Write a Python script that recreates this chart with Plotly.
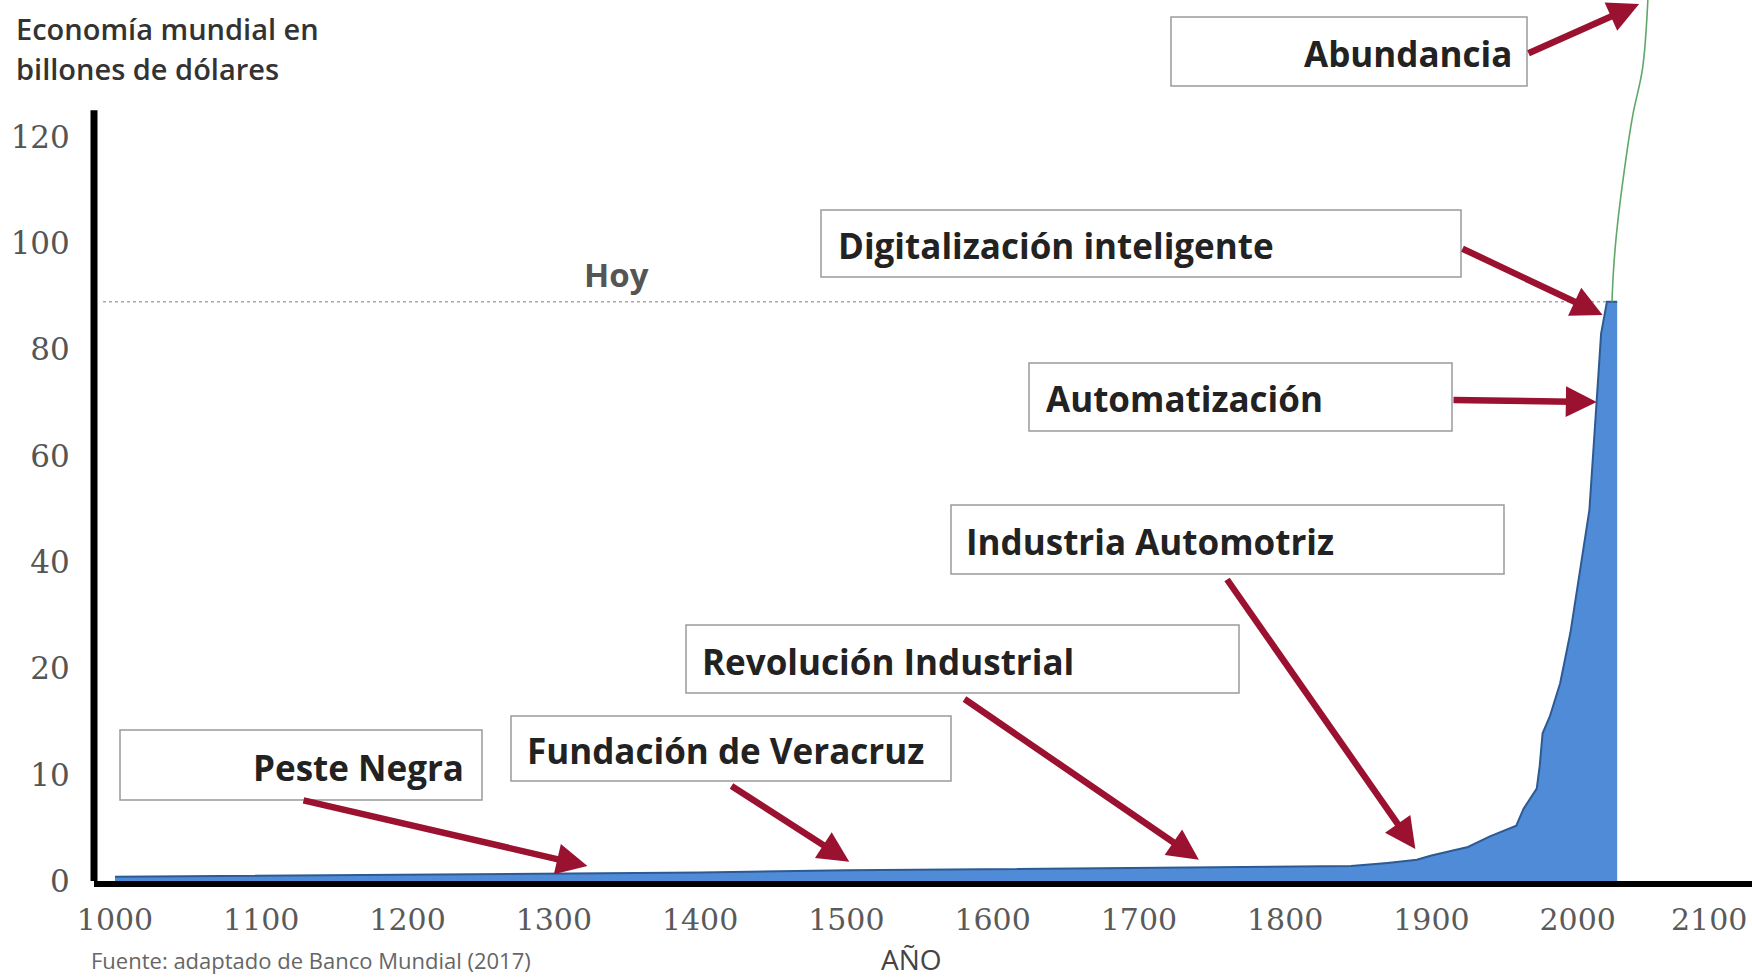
import numpy as np
import plotly.graph_objects as go

# ---------------- data ----------------
gdp_years = [1000, 1100, 1200, 1300, 1400, 1500, 1600, 1700, 1800, 1845, 1870, 1890,
             1900, 1925, 1940, 1958, 1963, 1972, 1974, 1976, 1981, 1988, 1995, 2002,
             2008, 2013, 2016, 2020, 2027]
gdp_values = [0.4, 0.5, 0.6, 0.7, 0.8, 1.0, 1.1, 1.2, 1.3, 1.4, 1.7, 2.0,
              2.4, 3.2, 4.2, 5.2, 6.8, 8.7, 10.8, 13.9, 15.5, 18.6, 26.7, 39.1,
              49.8, 70.5, 83.0, 89.0, 89.0]

proj_years = [2023.4, 2024.5, 2026.6, 2032, 2037.6, 2044.4, 2048]
proj_values = [89.0, 95.0, 102.0, 114.0, 124.0, 133.0, 146.0]

today_value = 89.0

events = ["Peste Negra", "Fundación de Veracruz", "Revolución Industrial",
          "Industria Automotriz", "Automatización", "Digitalización inteligente",
          "Abundancia"]
event_years = [1323, 1502, 1741, 1889, 2013, 2017, 2042]
event_values = [1.4, 1.8, 2.0, 3.0, 70.1, 86.5, 145.0]

x_ticks = list(range(1000, 2001, 100))
x_last_tick = 2100
y_tick_values = [0, 10, 20, 40, 60, 80, 100, 120]
y_tick_labels = ["0", "10", "20", "40", "60", "80", "100", "120"]

# ---------------- nonlinear (piecewise) y scale ----------------
def to_axis(v):
    v = np.asarray(v, dtype=float)
    pos = np.interp(v, y_tick_values, np.arange(len(y_tick_values)))
    top = y_tick_values[-1]
    return np.where(v > top, len(y_tick_values) - 1 + (v - top) / 20.0, pos)

# ---------------- layout geometry (pixels) ----------------
W, H = 1752, 977
L, R, T, B = 94, 0, 0, 96
PW, PH = W - L - R, H - T - B
x_per_px = 1.4627   # pixels per year
y_per_px = 106.3    # pixels per y-axis step
x_min = 1000 - (115 - L) / x_per_px
x_max = x_min + PW / x_per_px
y_max = PH / y_per_px

def fx(px):
    return (px - L) / PW

def fy(py):
    return (H - B - py) / PH

def data_x(px):
    return x_min + (px - L) / x_per_px

def data_y(py):
    return (H - B - py) / y_per_px

fig = go.Figure()

fig.add_trace(go.Scatter(
    x=gdp_years, y=to_axis(gdp_values), mode="lines", fill="tozeroy",
    fillcolor="#4f8bd6", line=dict(color="#2d5a93", width=2),
    hoverinfo="skip", showlegend=False))

fig.add_trace(go.Scatter(
    x=proj_years, y=to_axis(proj_values), mode="lines", line_shape="spline",
    line=dict(color="#5fa86a", width=1.6), hoverinfo="skip", showlegend=False,
    cliponaxis=False))

shapes = []
# y axis line (partial height)
shapes.append(dict(type="line", xref="paper", yref="y", x0=0, x1=0,
                   y0=0, y1=float(to_axis(125)), line=dict(color="black", width=7)))
# "Hoy" dotted line
shapes.append(dict(type="line", xref="paper", yref="y", x0=fx(103), x1=fx(1609),
                   y0=float(to_axis(today_value)), y1=float(to_axis(today_value)),
                   line=dict(color="#aaaaaa", width=1.5, dash="dot")))

# label boxes: (x0, y0, x1, y1) pixels, text anchor, text x
boxes = [
    ((120, 730, 482, 800), "right", 466),
    ((511, 716, 951, 781), "left", 525),
    ((686, 625, 1239, 693), "left", 700),
    ((951, 505, 1504, 574), "left", 964),
    ((1029, 363, 1452, 431), "left", 1044),
    ((821, 210, 1461, 277), "left", 836),
    ((1171, 17, 1527, 86), "right", 1514),
]
tails = [(302, 800), (730, 785), (963, 698), (1226, 578), (1452, 400),
         (1461, 248), (1527, 54)]

annotations = []
for name, (bx, anchor, tx), yr, val, (tx_px, ty_px) in zip(
        events, boxes, event_years, event_values, tails):
    x0, y0, x1, y1 = bx
    shapes.append(dict(type="rect", xref="paper", yref="paper",
                       x0=fx(x0), x1=fx(x1), y0=fy(y1), y1=fy(y0),
                       line=dict(color="#9a9a9a", width=1.5), fillcolor="white",
                       layer="above"))
    annotations.append(dict(
        text=name, xref="paper", yref="paper", x=fx(tx), y=fy((y0 + y1) / 2 + 2),
        xanchor=anchor, yanchor="middle", showarrow=False,
        font=dict(family="Open Sans", size=35, color="#222222", weight="bold")))
    annotations.append(dict(
        text="", x=yr, y=float(to_axis(val)), xref="x", yref="y",
        ax=data_x(tx_px), ay=data_y(ty_px), axref="x", ayref="y",
        showarrow=True, arrowhead=2, arrowsize=0.95, arrowwidth=6.5,
        arrowcolor="#9b1230"))

tick_font = dict(family="DejaVu Serif", size=30, color="#5a5a5a")

# texts
annotations += [
    dict(text="Economía mundial en", xref="paper", yref="paper", x=fx(14), y=fy(28),
         xanchor="left", yanchor="middle", showarrow=False,
         font=dict(family="Open Sans", size=29, color="#333333", weight=600)),
    dict(text="billones de dólares", xref="paper", yref="paper", x=fx(14), y=fy(68),
         xanchor="left", yanchor="middle", showarrow=False,
         font=dict(family="Open Sans", size=29, color="#333333", weight=600)),
    dict(text="Hoy", xref="paper", yref="paper", x=fx(616), y=fy(275),
         xanchor="center", yanchor="middle", showarrow=False,
         font=dict(family="Open Sans", size=33, color="#555555", weight="bold")),
    dict(text="Fuente: adaptado de Banco Mundial (2017)", xref="paper", yref="paper",
         x=fx(89), y=fy(960), xanchor="left", yanchor="middle", showarrow=False,
         font=dict(family="Open Sans", size=22, color="#666666")),
    dict(text="AÑO", xref="paper", yref="paper", x=fx(911), y=fy(959),
         xanchor="center", yanchor="middle", showarrow=False,
         font=dict(family="Open Sans", size=28, color="#444444")),
    # last x tick label, kept inside the page edge
    dict(text=str(x_last_tick), xref="x", yref="paper", x=x_last_tick, y=fy(919),
         xanchor="right", yanchor="middle", xshift=25, showarrow=False,
         font=tick_font),
]

fig.update_layout(
    width=W, height=H, margin=dict(l=L, r=R, t=T, b=B, autoexpand=False),
    plot_bgcolor="white", paper_bgcolor="white",
    shapes=shapes, annotations=annotations, showlegend=False,
    xaxis=dict(range=[x_min, x_max], tickvals=x_ticks, showgrid=False, zeroline=False,
               showline=True, linecolor="black", linewidth=6,
               ticks="outside", ticklen=7, tickcolor="rgba(0,0,0,0)",
               tickfont=tick_font),
    yaxis=dict(range=[0, y_max], tickvals=list(range(len(y_tick_values))),
               ticktext=y_tick_labels, showgrid=False, zeroline=False, showline=False,
               ticks="outside", ticklen=17, tickcolor="rgba(0,0,0,0)",
               tickfont=dict(family="DejaVu Serif", size=31, color="#555555")),
)

fig.write_html(
    "out.html",
    config={"displayModeBar": False},
    post_script="document.body.style.margin='0';document.body.style.padding='0';"
                "document.body.style.overflow='hidden';")
